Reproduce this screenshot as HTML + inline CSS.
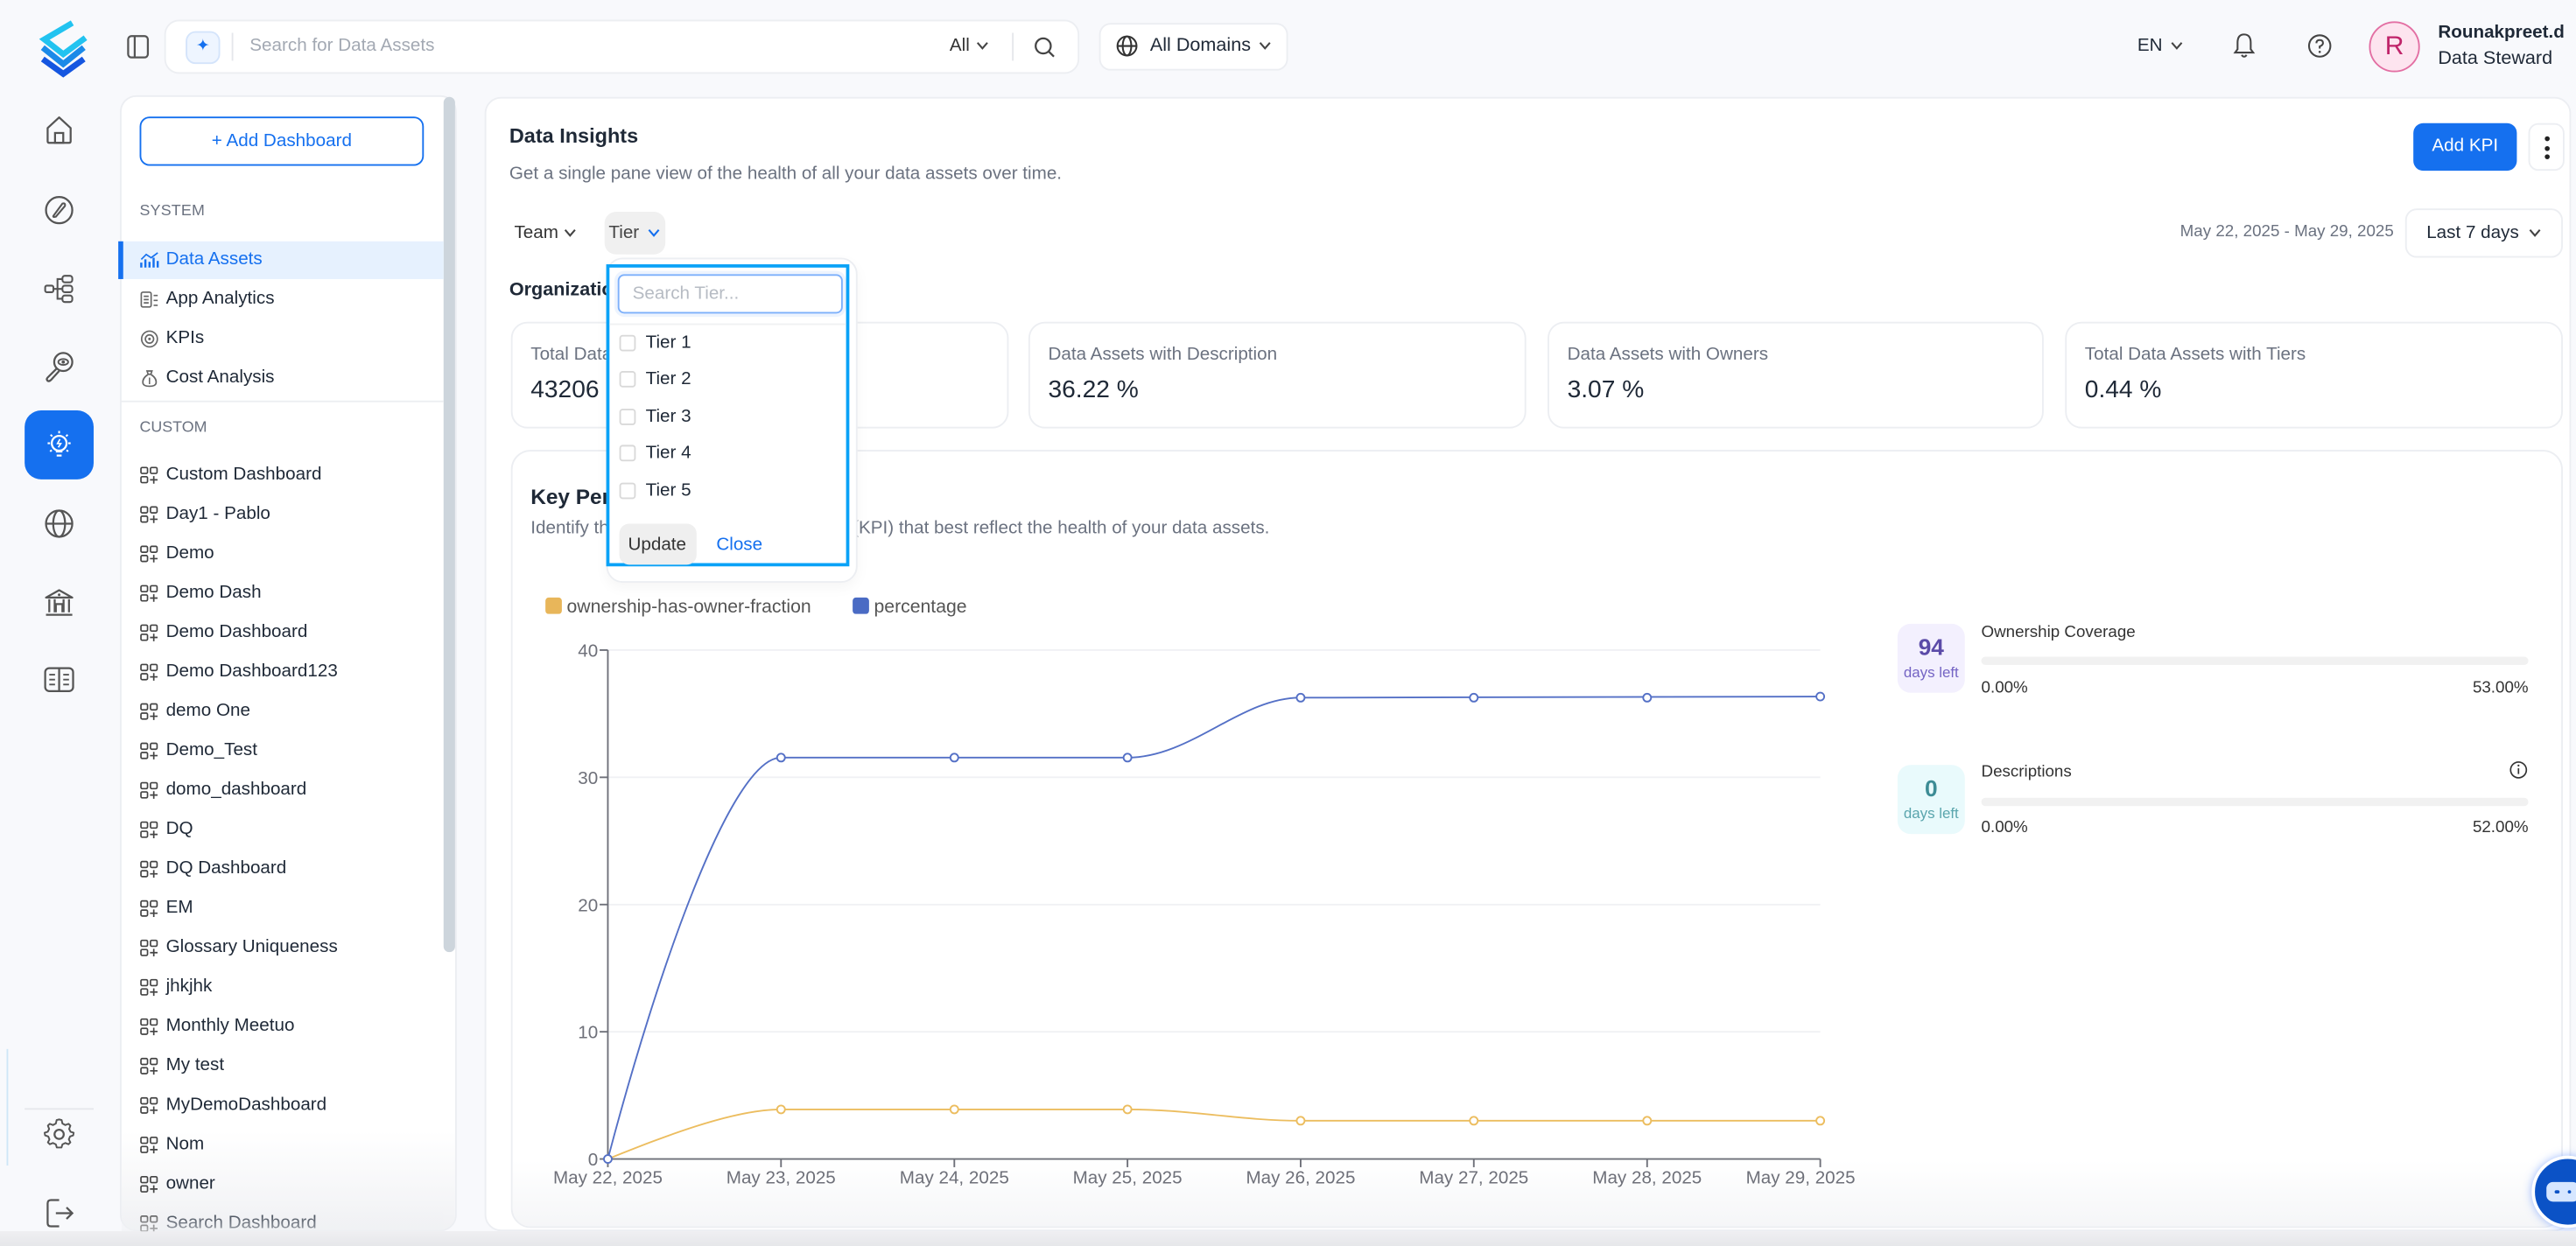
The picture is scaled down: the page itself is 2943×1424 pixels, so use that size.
<!DOCTYPE html>
<html><head><meta charset="utf-8">
<style>
*{box-sizing:border-box}
html,body{margin:0;padding:0}
body{width:2943px;height:1424px;overflow:hidden;background:#f8f9fc;font-family:"Liberation Sans",Arial,sans-serif;color:#222}
#s{position:absolute;left:0;top:0;width:1568px;height:759px;transform-origin:0 0;transform:scale(1.87691,1.87615);background:#f8f9fc;overflow:hidden}
.a{position:absolute;white-space:nowrap}
.t11{font-size:11px;line-height:14px}
.ico{position:absolute}
.nav{position:absolute;left:85px;font-size:11px;line-height:14px;color:#1f2937}
.nav svg{position:absolute;left:0;top:1.5px}
.nav span{position:absolute;left:16px;top:0;white-space:nowrap}
.card{position:absolute;background:#fff;border:1px solid #eceef2;border-radius:10px}
.lbl{position:absolute;font-size:11px;line-height:14px;color:#6b7280;white-space:nowrap}
.val{position:absolute;font-size:15px;line-height:18px;color:#1f2937;white-space:nowrap}
.cb{position:absolute;left:376.5px;width:10px;height:10px;border:1px solid #d9d9d9;border-radius:2px;background:#fff}
.tr{position:absolute;left:393px;font-size:11px;line-height:14px;color:#1f2937}
</style></head>
<body>
<div id="s">

<!-- ===== TOP BAR ===== -->
<svg class="ico" style="left:22px;top:12px" width="34" height="36" viewBox="0 0 34 36">
  <polyline points="22,2 5,12 16.5,21 30,11" fill="none" stroke="#22c3f0" stroke-width="3.6" stroke-linejoin="miter"/>
  <polyline points="4,17 16.5,27 29,17" fill="none" stroke="#1b8ae8" stroke-width="3.6"/>
  <polyline points="4,24 16.5,33 29,24" fill="none" stroke="#1556e0" stroke-width="3.6"/>
</svg>
<svg class="ico" style="left:77px;top:21px" width="15" height="15" viewBox="0 0 15 15">
  <rect x="1" y="1" width="12" height="13" rx="2" fill="none" stroke="#555" stroke-width="1.2"/>
  <line x1="5" y1="1" x2="5" y2="14" stroke="#555" stroke-width="1.2"/>
</svg>

<div class="a" style="left:100px;top:12px;width:557px;height:33px;background:#fff;border:1px solid #eceef2;border-radius:9px"></div>
<div class="a" style="left:113px;top:19px;width:21px;height:20px;background:#eef5ff;border:1px solid #d4e4fb;border-radius:6px;text-align:center;color:#1570ef;font-size:10px;line-height:18px">&#10022;</div>
<div class="a" style="left:141px;top:20px;width:1px;height:17px;background:#e5e7eb"></div>
<div class="a t11" style="left:152px;top:21px;color:#a3a9b3">Search for Data Assets</div>
<div class="a t11" style="left:578px;top:21px;color:#333">All</div>
<svg class="ico" style="left:594px;top:25px" width="8" height="6" viewBox="0 0 8 6"><polyline points="1,1 4,4.5 7,1" fill="none" stroke="#444" stroke-width="1.1"/></svg>
<div class="a" style="left:616px;top:20px;width:1px;height:17px;background:#e5e7eb"></div>
<svg class="ico" style="left:629px;top:22px" width="14" height="14" viewBox="0 0 14 14"><circle cx="6" cy="6" r="4.6" fill="none" stroke="#444" stroke-width="1.2"/><line x1="9.4" y1="9.4" x2="12.5" y2="12.5" stroke="#444" stroke-width="1.2"/></svg>

<div class="a" style="left:669px;top:14px;width:115px;height:29px;background:#fff;border:1px solid #eceef2;border-radius:7px"></div>
<svg class="ico" style="left:679px;top:21px" width="14" height="14" viewBox="0 0 14 14"><circle cx="7" cy="7" r="5.8" fill="none" stroke="#333" stroke-width="1.1"/><ellipse cx="7" cy="7" rx="2.6" ry="5.8" fill="none" stroke="#333" stroke-width="1.1"/><line x1="1.2" y1="7" x2="12.8" y2="7" stroke="#333" stroke-width="1.1"/></svg>
<div class="a" style="left:700px;top:21px;font-size:11.5px;line-height:14px;color:#1f2937">All Domains</div>
<svg class="ico" style="left:766px;top:25px" width="8" height="6" viewBox="0 0 8 6"><polyline points="1,1 4,4.5 7,1" fill="none" stroke="#444" stroke-width="1.1"/></svg>

<div class="a t11" style="left:1301px;top:21px;color:#1f2937">EN</div>
<svg class="ico" style="left:1321px;top:25px" width="8" height="6" viewBox="0 0 8 6"><polyline points="1,1 4,4.5 7,1" fill="none" stroke="#444" stroke-width="1.1"/></svg>
<svg class="ico" style="left:1359px;top:19px" width="14" height="18" viewBox="0 0 14 18"><path d="M7 2 C3.8 2 3 4.5 3 7 L3 11 L1.5 13 L12.5 13 L11 11 L11 7 C11 4.5 10.2 2 7 2 Z" fill="none" stroke="#444" stroke-width="1.1"/><path d="M5.5 14.5 Q7 16.5 8.5 14.5" fill="none" stroke="#444" stroke-width="1.1"/></svg>
<svg class="ico" style="left:1404px;top:20px" width="16" height="16" viewBox="0 0 16 16"><circle cx="8" cy="8" r="6.5" fill="none" stroke="#444" stroke-width="1.1"/><path d="M6 6.3 Q6 4.4 8 4.4 Q10 4.4 10 6.2 Q10 7.5 8 8.3 L8 9.6" fill="none" stroke="#444" stroke-width="1.1"/><circle cx="8" cy="11.6" r="0.7" fill="#444"/></svg>
<div class="a" style="left:1442px;top:13px;width:31px;height:31px;border-radius:50%;background:#fde4ef;border:1px solid #e36fa3;text-align:center;color:#c0246a;font-size:16px;line-height:29px">R</div>
<div class="a" style="left:1484px;top:13px;font-size:11px;line-height:14px;font-weight:bold;color:#1f2937">Rounakpreet.d</div>
<div class="a" style="left:1484px;top:29px;font-size:11.5px;line-height:14px;color:#1f2937">Data Steward</div>

<!-- ===== LEFT RAIL ===== -->
<svg class="ico" style="left:26px;top:69px" width="20" height="20" viewBox="0 0 20 20"><path d="M3 9 L10 2.5 L17 9 L17 17 Q17 18 16 18 L4 18 Q3 18 3 17 Z" fill="none" stroke="#555" stroke-width="1.2" stroke-linejoin="round"/><rect x="7.5" y="12" width="5" height="6" fill="none" stroke="#555" stroke-width="1.2"/></svg>
<svg class="ico" style="left:26px;top:118px" width="20" height="20" viewBox="0 0 20 20"><circle cx="10" cy="10" r="8" fill="none" stroke="#555" stroke-width="1.2"/><path d="M6.5 13.5 L12 6 Q14 5.5 13.5 7.5 L8 14 Q6 14.5 6.5 13.5 Z" fill="none" stroke="#555" stroke-width="1.1"/></svg>
<svg class="ico" style="left:26px;top:166px" width="20" height="20" viewBox="0 0 20 20"><rect x="1.5" y="8" width="5" height="4" rx="1" fill="none" stroke="#555" stroke-width="1.1"/><rect x="12" y="2" width="6" height="4" rx="1.5" fill="none" stroke="#555" stroke-width="1.1"/><rect x="12" y="8" width="6" height="4" rx="1.5" fill="none" stroke="#555" stroke-width="1.1"/><rect x="12" y="14" width="6" height="4" rx="1.5" fill="none" stroke="#555" stroke-width="1.1"/><path d="M6.5 10 L12 10 M9 10 L9 4 L12 4 M9 10 L9 16 L12 16" fill="none" stroke="#555" stroke-width="1.1"/></svg>
<svg class="ico" style="left:26px;top:213px" width="20" height="20" viewBox="0 0 20 20"><circle cx="12.5" cy="7.5" r="5.5" fill="none" stroke="#555" stroke-width="1.2"/><ellipse cx="12.5" cy="7.5" rx="3" ry="1.8" fill="none" stroke="#555" stroke-width="1"/><circle cx="12.5" cy="7.5" r="1" fill="#555"/><path d="M8.5 11.5 L3 17 Q2 18 3 19 Q4 19.5 5 18.5 L10 13" fill="none" stroke="#555" stroke-width="1.2"/></svg>
<div class="a" style="left:15px;top:250px;width:42px;height:42px;background:#1570ef;border-radius:10px"></div>
<svg class="ico" style="left:26px;top:261px" width="20" height="20" viewBox="0 0 20 20"><circle cx="10" cy="9" r="4.5" fill="none" stroke="#fff" stroke-width="1.2"/><path d="M8 14 L12 14 M8.5 16.5 L11.5 16.5" stroke="#fff" stroke-width="1.2"/><path d="M10 1.5 L10 3 M3 9 L4.5 9 M15.5 9 L17 9 M4.8 3.8 L5.8 4.8 M15.2 3.8 L14.2 4.8 M4.5 14 L5.5 13.2 M15.5 14 L14.5 13.2" stroke="#fff" stroke-width="1.1"/><path d="M10.5 6.5 L9 9.2 L11 9.2 L9.5 11.5" fill="none" stroke="#fff" stroke-width="0.9"/></svg>
<svg class="ico" style="left:26px;top:309px" width="20" height="20" viewBox="0 0 20 20"><circle cx="10" cy="10" r="8" fill="none" stroke="#555" stroke-width="1.2"/><ellipse cx="10" cy="10" rx="3.6" ry="8" fill="none" stroke="#555" stroke-width="1.2"/><line x1="2" y1="10" x2="18" y2="10" stroke="#555" stroke-width="1.2"/></svg>
<svg class="ico" style="left:26px;top:357px" width="20" height="20" viewBox="0 0 20 20"><path d="M2 7 L10 2.5 L18 7 Z" fill="none" stroke="#555" stroke-width="1.2" stroke-linejoin="round"/><circle cx="10" cy="5.3" r="0.8" fill="#555"/><path d="M4 8 L4 16 M7.3 8 L7.3 16 M12.7 8 L12.7 16 M16 8 L16 16 M8 16 L8 11 L12 11 L12 16 M2 17.5 L18 17.5" fill="none" stroke="#555" stroke-width="1.2"/></svg>
<svg class="ico" style="left:26px;top:404px" width="20" height="20" viewBox="0 0 20 20"><rect x="1.5" y="3" width="17" height="14" rx="2.5" fill="none" stroke="#555" stroke-width="1.2"/><line x1="10" y1="3" x2="10" y2="17" stroke="#555" stroke-width="1.2"/><path d="M4 7 L7.5 7 M4 10 L7.5 10 M4 13 L7.5 13 M12.5 7 L16 7 M12.5 10 L16 10 M12.5 13 L16 13" stroke="#555" stroke-width="1"/></svg>
<div class="a" style="left:15px;top:675px;width:42px;height:1px;background:#e6e8ec"></div>
<div class="a" style="left:4px;top:639px;width:1px;height:71px;background:#cfe6f7"></div>
<svg class="ico" style="left:26px;top:681px" width="20" height="20" viewBox="0 0 20 20"><path d="M10 1.8 L11.6 2.2 L12.1 4.4 L13.9 5.4 L16 4.6 L17.2 5.8 L16.4 7.9 L17.3 9.7 L19.3 10.3 L19 12 L17 12.7 L16.2 14.6 L17.2 16.5 L16 17.7 L14 16.9 L12.1 17.8 L11.5 19.8 L8.5 19.8 L7.9 17.8 L6 16.9 L4 17.7 L2.8 16.5 L3.8 14.6 L3 12.7 L1 12 L0.7 10.3 L2.7 9.7 L3.6 7.9 L2.8 5.8 L4 4.6 L6.1 5.4 L7.9 4.4 L8.4 2.2 Z" transform="translate(0.5,-0.8) scale(0.95)" fill="none" stroke="#555" stroke-width="1.1" stroke-linejoin="round"/><circle cx="10" cy="10" r="2.8" fill="none" stroke="#555" stroke-width="1.2"/></svg>
<svg class="ico" style="left:26px;top:729px" width="20" height="20" viewBox="0 0 20 20"><path d="M10 2 L5 2 Q3 2 3 4 L3 16 Q3 18 5 18 L10 18" fill="none" stroke="#555" stroke-width="1.2"/><path d="M8 10 L18 10 M14.5 6.5 L18 10 L14.5 13.5" fill="none" stroke="#555" stroke-width="1.2"/></svg>

<!-- ===== LEFT PANEL ===== -->
<div class="a" style="left:73px;top:58px;width:205px;height:692px;background:#fff;border:1px solid #eceef2;border-radius:10px;overflow:hidden">
  <div style="position:absolute;left:0;right:0;bottom:0;height:60px;background:linear-gradient(to bottom,rgba(255,255,255,0),rgba(238,239,242,0.85))"></div>
</div>
<div class="a" style="left:270px;top:59px;width:7px;height:521px;background:#cdd5dc;border-radius:4px"></div>
<div class="a" style="left:85px;top:71px;width:173px;height:30px;border:1px solid #1570ef;border-radius:6px;background:#fff;text-align:center;color:#1570ef;font-size:11px;line-height:28px">+ Add Dashboard</div>
<div class="a" style="left:85px;top:123px;font-size:9.5px;line-height:12px;color:#6b7280;letter-spacing:0.1px">SYSTEM</div>
<div class="a" style="left:72px;top:147px;width:198px;height:23px;background:#e6f1fe"></div>
<div class="a" style="left:72px;top:147px;width:3px;height:23px;background:#1570ef"></div>
<div class="nav" style="top:151px;color:#1570ef"><svg width="12" height="11" viewBox="0 0 12 11"><path d="M1 10 L1 7 M3.5 10 L3.5 5 M6 10 L6 6.5 M8.5 10 L8.5 4 M11 10 L11 6" stroke="#1570ef" stroke-width="1.3"/><path d="M1 5 L4 2 L7 4 L11 1" fill="none" stroke="#1570ef" stroke-width="0.9"/></svg><span>Data Assets</span></div>
<div class="nav" style="top:175px"><svg width="12" height="11" viewBox="0 0 12 11"><rect x="1" y="1" width="6" height="9" rx="1" fill="none" stroke="#666" stroke-width="0.9"/><path d="M2.5 3.5 L5.5 3.5 M2.5 5.5 L5.5 5.5 M2.5 7.5 L5.5 7.5 M8.5 3 L11 3 M8.5 6 L11 6 M8.5 9 L11 9" stroke="#666" stroke-width="0.9"/></svg><span>App Analytics</span></div>
<div class="nav" style="top:199px"><svg width="12" height="11" viewBox="0 0 12 11"><circle cx="6" cy="5.5" r="4.8" fill="none" stroke="#666" stroke-width="0.9"/><circle cx="6" cy="5.5" r="2.5" fill="none" stroke="#666" stroke-width="0.9"/><circle cx="6" cy="5.5" r="0.8" fill="#666"/></svg><span>KPIs</span></div>
<div class="nav" style="top:223px"><svg width="12" height="11" viewBox="0 0 12 11"><path d="M4.5 1 L7.5 1 L6.8 3 L5.2 3 Z" fill="none" stroke="#666" stroke-width="0.9"/><path d="M5 3.2 Q1.5 5.5 2 8.5 Q2.5 10.3 6 10.3 Q9.5 10.3 10 8.5 Q10.5 5.5 7 3.2" fill="none" stroke="#666" stroke-width="0.9"/><path d="M6 5 L6 9" stroke="#666" stroke-width="0.8"/></svg><span>Cost Analysis</span></div>
<div class="a" style="left:73px;top:244px;width:197px;height:1px;background:#eceef2"></div>
<div class="a" style="left:85px;top:255px;font-size:9.5px;line-height:12px;color:#6b7280">CUSTOM</div>

<div id="custom"></div>

<!-- ===== MAIN CARD ===== -->
<div class="a" style="left:295px;top:59px;width:1270px;height:691px;background:#fff;border:1px solid #eceef2;border-radius:10px"></div>
<div class="a" style="left:310px;top:75px;font-size:12.5px;line-height:16px;font-weight:bold;color:#1f2937">Data Insights</div>
<div class="a" style="left:310px;top:99px;font-size:11px;line-height:14px;color:#6b7280">Get a single pane view of the health of all your data assets over time.</div>
<div class="a" style="left:1469px;top:75px;width:63px;height:29px;background:#1570ef;border-radius:6px;color:#fff;text-align:center;font-size:11px;line-height:29px">Add KPI</div>
<div class="a" style="left:1539px;top:75px;width:22px;height:29px;background:#fff;border:1px solid #eceef2;border-radius:6px"></div>
<div class="a" style="left:1548.5px;top:83px;width:3px;height:3px;border-radius:50%;background:#222"></div>
<div class="a" style="left:1548.5px;top:88.5px;width:3px;height:3px;border-radius:50%;background:#222"></div>
<div class="a" style="left:1548.5px;top:94px;width:3px;height:3px;border-radius:50%;background:#222"></div>

<div class="a t11" style="left:313px;top:135px;color:#333">Team</div>
<svg class="ico" style="left:343px;top:139px" width="8" height="6" viewBox="0 0 8 6"><polyline points="1,1 4,4.5 7,1" fill="none" stroke="#444" stroke-width="1.1"/></svg>
<div class="a" style="left:368px;top:129px;width:37px;height:26px;background:#f0f0f0;border-radius:7px"></div>
<div class="a t11" style="left:370.5px;top:135px;color:#444">Tier</div>
<svg class="ico" style="left:393.5px;top:139px" width="8" height="6" viewBox="0 0 8 6"><polyline points="1,1 4,4.5 7,1" fill="none" stroke="#1570ef" stroke-width="1.1"/></svg>

<div class="a" style="left:1327px;top:136px;font-size:10px;line-height:12px;color:#6b7280">May 22, 2025 - May 29, 2025</div>
<div class="a" style="left:1464px;top:127px;width:96px;height:30px;background:#fff;border:1px solid #eceef2;border-radius:7px"></div>
<div class="a t11" style="left:1477px;top:135px;color:#1f2937">Last 7 days</div>
<svg class="ico" style="left:1539px;top:139px" width="8" height="6" viewBox="0 0 8 6"><polyline points="1,1 4,4.5 7,1" fill="none" stroke="#444" stroke-width="1.1"/></svg>

<div class="a" style="left:310px;top:170px;font-size:11.5px;line-height:14px;font-weight:bold;color:#1f2937">Organization</div>

<!-- stat cards -->
<div class="card" style="left:311px;top:196px;width:303px;height:65px"></div>
<div class="card" style="left:626px;top:196px;width:303px;height:65px"></div>
<div class="card" style="left:942px;top:196px;width:302px;height:65px"></div>
<div class="card" style="left:1257px;top:196px;width:303px;height:65px"></div>
<div class="lbl" style="left:323px;top:209px">Total Data Assets</div>
<div class="val" style="left:323px;top:229px">43206</div>
<div class="lbl" style="left:638px;top:209px">Data Assets with Description</div>
<div class="val" style="left:638px;top:229px">36.22 %</div>
<div class="lbl" style="left:954px;top:209px">Data Assets with Owners</div>
<div class="val" style="left:954px;top:229px">3.07 %</div>
<div class="lbl" style="left:1269px;top:209px">Total Data Assets with Tiers</div>
<div class="val" style="left:1269px;top:229px">0.44 %</div>

<!-- KPI card -->
<div class="card" style="left:311px;top:274px;width:1249px;height:474px;border-radius:12px;overflow:hidden">
  <div style="position:absolute;left:0;right:0;bottom:0;height:40px;background:linear-gradient(to bottom,rgba(255,255,255,0),rgba(244,245,247,0.9))"></div>
</div>
<div class="a" style="left:323px;top:295px;font-size:13px;line-height:16px;font-weight:bold;color:#1f2937">Key Performance Indicators</div>
<div class="a" style="left:323px;top:315px;font-size:11px;line-height:14px;color:#6b7280;width:190px;overflow:hidden">Identify the Key Performance Indicators</div>
<div class="a" style="left:519px;top:315px;font-size:11px;line-height:14px;color:#6b7280">(KPI) that best reflect the health of your data assets.</div>

<!-- chart -->
<svg class="ico" style="left:0;top:0" width="1568" height="759" viewBox="0 0 1568 759">
  <rect x="332" y="364" width="10" height="10" rx="2" fill="#e8b65a"/>
  <text x="345" y="373" font-family="Liberation Sans, Arial, sans-serif" font-size="11.3" fill="#555">ownership-has-owner-fraction</text>
  <rect x="519" y="364" width="10" height="10" rx="2" fill="#4a6bc4"/>
  <text x="532" y="373" font-family="Liberation Sans, Arial, sans-serif" font-size="11.3" fill="#555">percentage</text>

  <g stroke="#f0f1f4" stroke-width="1">
    <line x1="370" y1="396" x2="1108" y2="396"/>
    <line x1="370" y1="473.5" x2="1108" y2="473.5"/>
    <line x1="370" y1="551" x2="1108" y2="551"/>
    <line x1="370" y1="628.5" x2="1108" y2="628.5"/>
  </g>
  <g stroke="#6e7079" stroke-width="1">
    <line x1="370" y1="396" x2="370" y2="706"/>
    <line x1="370" y1="706" x2="1108" y2="706"/>
    <line x1="365" y1="396" x2="370" y2="396"/>
    <line x1="365" y1="473.5" x2="370" y2="473.5"/>
    <line x1="365" y1="551" x2="370" y2="551"/>
    <line x1="365" y1="628.5" x2="370" y2="628.5"/>
    <line x1="365" y1="706" x2="370" y2="706"/>
    <line x1="370" y1="706" x2="370" y2="711"/>
    <line x1="475.4" y1="706" x2="475.4" y2="711"/>
    <line x1="580.9" y1="706" x2="580.9" y2="711"/>
    <line x1="686.3" y1="706" x2="686.3" y2="711"/>
    <line x1="791.7" y1="706" x2="791.7" y2="711"/>
    <line x1="897.1" y1="706" x2="897.1" y2="711"/>
    <line x1="1002.6" y1="706" x2="1002.6" y2="711"/>
    <line x1="1108" y1="706" x2="1108" y2="711"/>
  </g>
  <g font-family="Liberation Sans, Arial, sans-serif" font-size="11" fill="#6e7079" text-anchor="end">
    <text x="364" y="400">40</text>
    <text x="364" y="477.5">30</text>
    <text x="364" y="555">20</text>
    <text x="364" y="632.5">10</text>
    <text x="364" y="710">0</text>
  </g>
  <g font-family="Liberation Sans, Arial, sans-serif" font-size="11" fill="#6e7079" text-anchor="middle">
    <text x="370" y="721">May 22, 2025</text>
    <text x="475.4" y="721">May 23, 2025</text>
    <text x="580.9" y="721">May 24, 2025</text>
    <text x="686.3" y="721">May 25, 2025</text>
    <text x="791.7" y="721">May 26, 2025</text>
    <text x="897.1" y="721">May 27, 2025</text>
    <text x="1002.6" y="721">May 28, 2025</text>
    <text x="1096" y="721">May 29, 2025</text>
  </g>
  <path d="M370 706 C400 592 445 461.5 475.4 461.5 L686.3 461.5 C725 461.5 755 425 791.7 425 L1108 424.3" fill="none" stroke="#5470c6" stroke-width="1"/>
  <path d="M370 706 C400 694 445 675.8 475.4 675.8 L686.3 675.8 C725 675.8 755 682.7 791.7 682.7 L1108 682.7" fill="none" stroke="#ecbd5f" stroke-width="1"/>
  <g fill="#fff" stroke="#ecbd5f" stroke-width="1">
    <circle cx="475.4" cy="675.8" r="2.4"/><circle cx="580.9" cy="675.8" r="2.4"/><circle cx="686.3" cy="675.8" r="2.4"/>
    <circle cx="791.7" cy="682.7" r="2.4"/><circle cx="897.1" cy="682.7" r="2.4"/><circle cx="1002.6" cy="682.7" r="2.4"/><circle cx="1108" cy="682.7" r="2.4"/>
  </g>
  <g fill="#fff" stroke="#5470c6" stroke-width="1">
    <circle cx="370" cy="706" r="2.4"/>
    <circle cx="475.4" cy="461.5" r="2.4"/><circle cx="580.9" cy="461.5" r="2.4"/><circle cx="686.3" cy="461.5" r="2.4"/>
    <circle cx="791.7" cy="425" r="2.4"/><circle cx="897.1" cy="425" r="2.4"/><circle cx="1002.6" cy="425" r="2.4"/><circle cx="1108" cy="424.3" r="2.4"/>
  </g>

  <!-- KPI progress panel -->
  <rect x="1155" y="380" width="41" height="42" rx="8" fill="#f3f0fe"/>
  <text x="1175.5" y="399" text-anchor="middle" font-family="Liberation Sans, Arial, sans-serif" font-size="14" font-weight="bold" fill="#5b4ba8">94</text>
  <text x="1175.5" y="412.5" text-anchor="middle" font-family="Liberation Sans, Arial, sans-serif" font-size="9" fill="#7464c4">days left</text>
  <text x="1206" y="388" font-family="Liberation Sans, Arial, sans-serif" font-size="10" fill="#333">Ownership Coverage</text>
  <rect x="1206" y="400" width="333" height="5" rx="2.5" fill="#f1f1f1"/>
  <text x="1206" y="422" font-family="Liberation Sans, Arial, sans-serif" font-size="10" fill="#333">0.00%</text>
  <text x="1539" y="422" text-anchor="end" font-family="Liberation Sans, Arial, sans-serif" font-size="10" fill="#333">53.00%</text>

  <rect x="1155" y="466" width="41" height="42" rx="8" fill="#e9fafc"/>
  <text x="1175.5" y="485" text-anchor="middle" font-family="Liberation Sans, Arial, sans-serif" font-size="14" font-weight="bold" fill="#3d8c95">0</text>
  <text x="1175.5" y="498.5" text-anchor="middle" font-family="Liberation Sans, Arial, sans-serif" font-size="9" fill="#5aa5ad">days left</text>
  <text x="1206" y="473" font-family="Liberation Sans, Arial, sans-serif" font-size="10" fill="#333">Descriptions</text>
  <circle cx="1533" cy="469" r="4.8" fill="none" stroke="#333" stroke-width="0.9"/>
  <line x1="1533" y1="468" x2="1533" y2="471.5" stroke="#333" stroke-width="0.9"/>
  <circle cx="1533" cy="466.3" r="0.6" fill="#333"/>
  <rect x="1206" y="486" width="333" height="5" rx="2.5" fill="#f1f1f1"/>
  <text x="1206" y="507" font-family="Liberation Sans, Arial, sans-serif" font-size="10" fill="#333">0.00%</text>
  <text x="1539" y="507" text-anchor="end" font-family="Liberation Sans, Arial, sans-serif" font-size="10" fill="#333">52.00%</text>
</svg>

<!-- ===== DROPDOWN ===== -->
<div class="a" style="left:369px;top:157px;width:153px;height:198px;background:#fff;border:1px solid #eceef2;border-radius:10px;box-shadow:0 3px 8px rgba(0,0,0,0.04)"></div>
<div class="a" style="left:369px;top:161px;width:148px;height:184px;border:2px solid #0aa2f7"></div>
<div class="a" style="left:376px;top:167px;width:137px;height:24px;border:1px solid #7db0fb;border-radius:4px;box-shadow:0 0 0 2px rgba(21,112,239,0.08);background:#fff"></div>
<div class="a t11" style="left:385px;top:172px;color:#b6bbc3">Search Tier...</div>
<div class="a" style="left:371px;top:197px;width:144px;height:1px;background:#f0f1f3"></div>
<div class="cb" style="top:203.5px"></div><div class="tr" style="top:201.5px">Tier 1</div>
<div class="cb" style="top:226px"></div><div class="tr" style="top:224px">Tier 2</div>
<div class="cb" style="top:248.5px"></div><div class="tr" style="top:246.5px">Tier 3</div>
<div class="cb" style="top:271px"></div><div class="tr" style="top:269px">Tier 4</div>
<div class="cb" style="top:293.5px"></div><div class="tr" style="top:291.5px">Tier 5</div>
<div class="a" style="left:376.5px;top:318.5px;width:47px;height:25px;background:#efefef;border-radius:6px;text-align:center;font-size:11px;line-height:27px;color:#333">Update</div>
<div class="a t11" style="left:436px;top:325px;color:#1570ef">Close</div>

<!-- chatbot -->
<div class="a" style="left:1541px;top:704px;width:44px;height:44px;border-radius:50%;background:#0b52c6;border:2px solid #fff;box-shadow:0 0 5px rgba(60,120,255,0.5)"></div>
<div class="a" style="left:1550px;top:720px;width:20px;height:12px;border-radius:4px;background:#d6e6ff"></div>
<div class="a" style="left:1555px;top:724.5px;width:2.5px;height:2.5px;border-radius:50%;background:#0b52c6"></div>
<div class="a" style="left:1562.5px;top:724.5px;width:2.5px;height:2.5px;border-radius:50%;background:#0b52c6"></div>

<!-- bottom strip -->
<div class="a" style="left:0;top:750px;width:1568px;height:9px;background:linear-gradient(to bottom,#efeff2,#e6e7ea)"></div>

<!-- custom dashboard items -->
<div class="nav" style="top:282px"><svg width="12" height="11" viewBox="0 0 12 11"><rect x="0.8" y="0.8" width="4" height="3.6" rx="0.8" fill="none" stroke="#444" stroke-width="0.9"/><rect x="6.6" y="0.8" width="4" height="3.6" rx="0.8" fill="none" stroke="#444" stroke-width="0.9"/><rect x="0.8" y="6.4" width="4" height="3.6" rx="0.8" fill="none" stroke="#444" stroke-width="0.9"/><path d="M8.6 6 L8.6 10.6 M6.3 8.3 L10.9 8.3" stroke="#444" stroke-width="0.9"/></svg><span>Custom Dashboard</span></div>
<div class="nav" style="top:306px"><svg width="12" height="11" viewBox="0 0 12 11"><rect x="0.8" y="0.8" width="4" height="3.6" rx="0.8" fill="none" stroke="#444" stroke-width="0.9"/><rect x="6.6" y="0.8" width="4" height="3.6" rx="0.8" fill="none" stroke="#444" stroke-width="0.9"/><rect x="0.8" y="6.4" width="4" height="3.6" rx="0.8" fill="none" stroke="#444" stroke-width="0.9"/><path d="M8.6 6 L8.6 10.6 M6.3 8.3 L10.9 8.3" stroke="#444" stroke-width="0.9"/></svg><span>Day1 - Pablo</span></div>
<div class="nav" style="top:330px"><svg width="12" height="11" viewBox="0 0 12 11"><rect x="0.8" y="0.8" width="4" height="3.6" rx="0.8" fill="none" stroke="#444" stroke-width="0.9"/><rect x="6.6" y="0.8" width="4" height="3.6" rx="0.8" fill="none" stroke="#444" stroke-width="0.9"/><rect x="0.8" y="6.4" width="4" height="3.6" rx="0.8" fill="none" stroke="#444" stroke-width="0.9"/><path d="M8.6 6 L8.6 10.6 M6.3 8.3 L10.9 8.3" stroke="#444" stroke-width="0.9"/></svg><span>Demo</span></div>
<div class="nav" style="top:354px"><svg width="12" height="11" viewBox="0 0 12 11"><rect x="0.8" y="0.8" width="4" height="3.6" rx="0.8" fill="none" stroke="#444" stroke-width="0.9"/><rect x="6.6" y="0.8" width="4" height="3.6" rx="0.8" fill="none" stroke="#444" stroke-width="0.9"/><rect x="0.8" y="6.4" width="4" height="3.6" rx="0.8" fill="none" stroke="#444" stroke-width="0.9"/><path d="M8.6 6 L8.6 10.6 M6.3 8.3 L10.9 8.3" stroke="#444" stroke-width="0.9"/></svg><span>Demo Dash</span></div>
<div class="nav" style="top:378px"><svg width="12" height="11" viewBox="0 0 12 11"><rect x="0.8" y="0.8" width="4" height="3.6" rx="0.8" fill="none" stroke="#444" stroke-width="0.9"/><rect x="6.6" y="0.8" width="4" height="3.6" rx="0.8" fill="none" stroke="#444" stroke-width="0.9"/><rect x="0.8" y="6.4" width="4" height="3.6" rx="0.8" fill="none" stroke="#444" stroke-width="0.9"/><path d="M8.6 6 L8.6 10.6 M6.3 8.3 L10.9 8.3" stroke="#444" stroke-width="0.9"/></svg><span>Demo Dashboard</span></div>
<div class="nav" style="top:402px"><svg width="12" height="11" viewBox="0 0 12 11"><rect x="0.8" y="0.8" width="4" height="3.6" rx="0.8" fill="none" stroke="#444" stroke-width="0.9"/><rect x="6.6" y="0.8" width="4" height="3.6" rx="0.8" fill="none" stroke="#444" stroke-width="0.9"/><rect x="0.8" y="6.4" width="4" height="3.6" rx="0.8" fill="none" stroke="#444" stroke-width="0.9"/><path d="M8.6 6 L8.6 10.6 M6.3 8.3 L10.9 8.3" stroke="#444" stroke-width="0.9"/></svg><span>Demo Dashboard123</span></div>
<div class="nav" style="top:426px"><svg width="12" height="11" viewBox="0 0 12 11"><rect x="0.8" y="0.8" width="4" height="3.6" rx="0.8" fill="none" stroke="#444" stroke-width="0.9"/><rect x="6.6" y="0.8" width="4" height="3.6" rx="0.8" fill="none" stroke="#444" stroke-width="0.9"/><rect x="0.8" y="6.4" width="4" height="3.6" rx="0.8" fill="none" stroke="#444" stroke-width="0.9"/><path d="M8.6 6 L8.6 10.6 M6.3 8.3 L10.9 8.3" stroke="#444" stroke-width="0.9"/></svg><span>demo One</span></div>
<div class="nav" style="top:450px"><svg width="12" height="11" viewBox="0 0 12 11"><rect x="0.8" y="0.8" width="4" height="3.6" rx="0.8" fill="none" stroke="#444" stroke-width="0.9"/><rect x="6.6" y="0.8" width="4" height="3.6" rx="0.8" fill="none" stroke="#444" stroke-width="0.9"/><rect x="0.8" y="6.4" width="4" height="3.6" rx="0.8" fill="none" stroke="#444" stroke-width="0.9"/><path d="M8.6 6 L8.6 10.6 M6.3 8.3 L10.9 8.3" stroke="#444" stroke-width="0.9"/></svg><span>Demo_Test</span></div>
<div class="nav" style="top:474px"><svg width="12" height="11" viewBox="0 0 12 11"><rect x="0.8" y="0.8" width="4" height="3.6" rx="0.8" fill="none" stroke="#444" stroke-width="0.9"/><rect x="6.6" y="0.8" width="4" height="3.6" rx="0.8" fill="none" stroke="#444" stroke-width="0.9"/><rect x="0.8" y="6.4" width="4" height="3.6" rx="0.8" fill="none" stroke="#444" stroke-width="0.9"/><path d="M8.6 6 L8.6 10.6 M6.3 8.3 L10.9 8.3" stroke="#444" stroke-width="0.9"/></svg><span>domo_dashboard</span></div>
<div class="nav" style="top:498px"><svg width="12" height="11" viewBox="0 0 12 11"><rect x="0.8" y="0.8" width="4" height="3.6" rx="0.8" fill="none" stroke="#444" stroke-width="0.9"/><rect x="6.6" y="0.8" width="4" height="3.6" rx="0.8" fill="none" stroke="#444" stroke-width="0.9"/><rect x="0.8" y="6.4" width="4" height="3.6" rx="0.8" fill="none" stroke="#444" stroke-width="0.9"/><path d="M8.6 6 L8.6 10.6 M6.3 8.3 L10.9 8.3" stroke="#444" stroke-width="0.9"/></svg><span>DQ</span></div>
<div class="nav" style="top:522px"><svg width="12" height="11" viewBox="0 0 12 11"><rect x="0.8" y="0.8" width="4" height="3.6" rx="0.8" fill="none" stroke="#444" stroke-width="0.9"/><rect x="6.6" y="0.8" width="4" height="3.6" rx="0.8" fill="none" stroke="#444" stroke-width="0.9"/><rect x="0.8" y="6.4" width="4" height="3.6" rx="0.8" fill="none" stroke="#444" stroke-width="0.9"/><path d="M8.6 6 L8.6 10.6 M6.3 8.3 L10.9 8.3" stroke="#444" stroke-width="0.9"/></svg><span>DQ Dashboard</span></div>
<div class="nav" style="top:546px"><svg width="12" height="11" viewBox="0 0 12 11"><rect x="0.8" y="0.8" width="4" height="3.6" rx="0.8" fill="none" stroke="#444" stroke-width="0.9"/><rect x="6.6" y="0.8" width="4" height="3.6" rx="0.8" fill="none" stroke="#444" stroke-width="0.9"/><rect x="0.8" y="6.4" width="4" height="3.6" rx="0.8" fill="none" stroke="#444" stroke-width="0.9"/><path d="M8.6 6 L8.6 10.6 M6.3 8.3 L10.9 8.3" stroke="#444" stroke-width="0.9"/></svg><span>EM</span></div>
<div class="nav" style="top:570px"><svg width="12" height="11" viewBox="0 0 12 11"><rect x="0.8" y="0.8" width="4" height="3.6" rx="0.8" fill="none" stroke="#444" stroke-width="0.9"/><rect x="6.6" y="0.8" width="4" height="3.6" rx="0.8" fill="none" stroke="#444" stroke-width="0.9"/><rect x="0.8" y="6.4" width="4" height="3.6" rx="0.8" fill="none" stroke="#444" stroke-width="0.9"/><path d="M8.6 6 L8.6 10.6 M6.3 8.3 L10.9 8.3" stroke="#444" stroke-width="0.9"/></svg><span>Glossary Uniqueness</span></div>
<div class="nav" style="top:594px"><svg width="12" height="11" viewBox="0 0 12 11"><rect x="0.8" y="0.8" width="4" height="3.6" rx="0.8" fill="none" stroke="#444" stroke-width="0.9"/><rect x="6.6" y="0.8" width="4" height="3.6" rx="0.8" fill="none" stroke="#444" stroke-width="0.9"/><rect x="0.8" y="6.4" width="4" height="3.6" rx="0.8" fill="none" stroke="#444" stroke-width="0.9"/><path d="M8.6 6 L8.6 10.6 M6.3 8.3 L10.9 8.3" stroke="#444" stroke-width="0.9"/></svg><span>jhkjhk</span></div>
<div class="nav" style="top:618px"><svg width="12" height="11" viewBox="0 0 12 11"><rect x="0.8" y="0.8" width="4" height="3.6" rx="0.8" fill="none" stroke="#444" stroke-width="0.9"/><rect x="6.6" y="0.8" width="4" height="3.6" rx="0.8" fill="none" stroke="#444" stroke-width="0.9"/><rect x="0.8" y="6.4" width="4" height="3.6" rx="0.8" fill="none" stroke="#444" stroke-width="0.9"/><path d="M8.6 6 L8.6 10.6 M6.3 8.3 L10.9 8.3" stroke="#444" stroke-width="0.9"/></svg><span>Monthly Meetuo</span></div>
<div class="nav" style="top:642px"><svg width="12" height="11" viewBox="0 0 12 11"><rect x="0.8" y="0.8" width="4" height="3.6" rx="0.8" fill="none" stroke="#444" stroke-width="0.9"/><rect x="6.6" y="0.8" width="4" height="3.6" rx="0.8" fill="none" stroke="#444" stroke-width="0.9"/><rect x="0.8" y="6.4" width="4" height="3.6" rx="0.8" fill="none" stroke="#444" stroke-width="0.9"/><path d="M8.6 6 L8.6 10.6 M6.3 8.3 L10.9 8.3" stroke="#444" stroke-width="0.9"/></svg><span>My test</span></div>
<div class="nav" style="top:666px"><svg width="12" height="11" viewBox="0 0 12 11"><rect x="0.8" y="0.8" width="4" height="3.6" rx="0.8" fill="none" stroke="#444" stroke-width="0.9"/><rect x="6.6" y="0.8" width="4" height="3.6" rx="0.8" fill="none" stroke="#444" stroke-width="0.9"/><rect x="0.8" y="6.4" width="4" height="3.6" rx="0.8" fill="none" stroke="#444" stroke-width="0.9"/><path d="M8.6 6 L8.6 10.6 M6.3 8.3 L10.9 8.3" stroke="#444" stroke-width="0.9"/></svg><span>MyDemoDashboard</span></div>
<div class="nav" style="top:690px"><svg width="12" height="11" viewBox="0 0 12 11"><rect x="0.8" y="0.8" width="4" height="3.6" rx="0.8" fill="none" stroke="#444" stroke-width="0.9"/><rect x="6.6" y="0.8" width="4" height="3.6" rx="0.8" fill="none" stroke="#444" stroke-width="0.9"/><rect x="0.8" y="6.4" width="4" height="3.6" rx="0.8" fill="none" stroke="#444" stroke-width="0.9"/><path d="M8.6 6 L8.6 10.6 M6.3 8.3 L10.9 8.3" stroke="#444" stroke-width="0.9"/></svg><span>Nom</span></div>
<div class="nav" style="top:714px"><svg width="12" height="11" viewBox="0 0 12 11"><rect x="0.8" y="0.8" width="4" height="3.6" rx="0.8" fill="none" stroke="#444" stroke-width="0.9"/><rect x="6.6" y="0.8" width="4" height="3.6" rx="0.8" fill="none" stroke="#444" stroke-width="0.9"/><rect x="0.8" y="6.4" width="4" height="3.6" rx="0.8" fill="none" stroke="#444" stroke-width="0.9"/><path d="M8.6 6 L8.6 10.6 M6.3 8.3 L10.9 8.3" stroke="#444" stroke-width="0.9"/></svg><span>owner</span></div>
<div class="nav" style="top:738px"><svg width="12" height="11" viewBox="0 0 12 11"><rect x="0.8" y="0.8" width="4" height="3.6" rx="0.8" fill="none" stroke="#444" stroke-width="0.9"/><rect x="6.6" y="0.8" width="4" height="3.6" rx="0.8" fill="none" stroke="#444" stroke-width="0.9"/><rect x="0.8" y="6.4" width="4" height="3.6" rx="0.8" fill="none" stroke="#444" stroke-width="0.9"/><path d="M8.6 6 L8.6 10.6 M6.3 8.3 L10.9 8.3" stroke="#444" stroke-width="0.9"/></svg><span>Search Dashboard</span></div>
<div class="a" style="left:74px;top:735px;width:196px;height:15px;background:linear-gradient(to bottom,rgba(250,250,251,0),rgba(240,241,244,0.6))"></div>
<div class="a" style="left:0;top:750px;width:1568px;height:9px;background:linear-gradient(to bottom,#efeff2,#e6e7ea)"></div>

</div>
</body></html>
